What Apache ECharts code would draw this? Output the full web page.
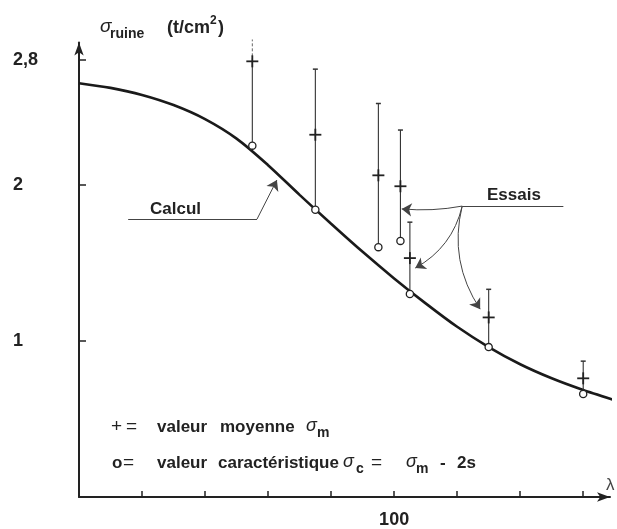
<!DOCTYPE html>
<html>
<head>
<meta charset="utf-8">
<script src="https://cdn.jsdelivr.net/npm/echarts@6/dist/echarts.min.js"></script>
<style>
  html, body { margin: 0; padding: 0; background: #fff; }
  #curve { width: 617px; height: 529px; }
</style>
</head>
<body>
<div id="curve"></div>
<script>
// courbe "Calcul"
var curveLambda = [0, 10, 20, 30, 40, 50, 60, 70, 80, 90, 100, 110, 120, 130, 140, 150, 160, 170];
var curveSigma = [2.65, 2.62, 2.575, 2.51, 2.42, 2.295, 2.125, 1.935, 1.75, 1.57, 1.40, 1.24, 1.09, 0.96, 0.85, 0.76, 0.685, 0.62];

// essais : lambda, sigma_c (o), sigma_m (+), haut de la barre
var testLambda = [55, 75, 95, 102, 105, 130, 160];
var testChar = [2.25, 1.84, 1.60, 1.64, 1.30, 0.96, 0.66];
var testMean = [2.79, 2.32, 2.06, 1.99, 1.53, 1.15, 0.76];
var testTop = [2.93, 2.74, 2.52, 2.35, 1.76, 1.33, 0.87];
var testDashed = [1, 0, 0, 0, 0, 0, 0];

var yTicks = [1, 2, 2.8];
var xTicks = [20, 40, 60, 80, 100, 120, 140, 160];
var xLabels = [100];

var ink = "#222";
var font = "Liberation Sans";

var myChart = echarts.init(document.getElementById("curve"));

function txt(x, y, text, size, extra) {
  return {
    type: "text",
    x: x,
    y: y,
    style: Object.assign(
      {
        text: text,
        fill: ink,
        fontFamily: font,
        fontSize: size,
        fontWeight: "bold",
        align: "left",
        verticalAlign: "middle",
      },
      extra || {}
    ),
  };
}
var sig = { fontStyle: "italic", fontWeight: "normal" };

var option = {
  animation: false,
  grid: { left: 79, right: 7, top: 42.6, bottom: 29.5 },
  xAxis: {
    type: "value",
    min: 0,
    max: 168.5,
    axisLine: {
      onZero: false,
      symbol: ["none", "arrow"],
      symbolSize: [7, 13],
      lineStyle: { color: ink, width: 2 },
    },
    axisTick: {
      customValues: xTicks,
      inside: true,
      length: 6,
      lineStyle: { color: ink, width: 1.5 },
    },
    axisLabel: {
      customValues: xLabels,
      margin: 14,
      color: ink,
      fontFamily: font,
      fontSize: 18,
      fontWeight: "bold",
    },
    splitLine: { show: false },
  },
  yAxis: {
    type: "value",
    min: 0,
    max: 2.91,
    axisLine: {
      onZero: false,
      symbol: ["none", "arrow"],
      symbolSize: [7, 13],
      lineStyle: { color: ink, width: 2 },
    },
    axisTick: {
      customValues: yTicks,
      inside: true,
      length: 7,
      lineStyle: { color: ink, width: 1.5 },
    },
    axisLabel: {
      customValues: yTicks,
      align: "left",
      margin: 66,
      color: ink,
      fontFamily: font,
      fontSize: 18,
      fontWeight: "bold",
      formatter: function (v) {
        return String(v).replace(".", ",");
      },
    },
    splitLine: { show: false },
  },
  series: [
    {
      type: "line",
      data: curveLambda.map(function (l, i) {
        return [l, curveSigma[i]];
      }),
      smooth: 0.3,
      symbol: "none",
      clip: false,
      lineStyle: { color: "#1a1a1a", width: 2.6 },
      z: 3,
    },
    {
      type: "custom",
      clip: false,
      data: testLambda.map(function (l, i) {
        return [l, testChar[i], testMean[i], testTop[i], testDashed[i]];
      }),
      encode: { x: 0, y: [1, 2, 3] },
      renderItem: function (params, api) {
        var pc = api.coord([api.value(0), api.value(1)]);
        var pm = api.coord([api.value(0), api.value(2)]);
        var pt = api.coord([api.value(0), api.value(3)]);
        var dashed = api.value(4) === 1;
        var r = 3.6;
        var st = { stroke: "#333", lineWidth: 1.1 };
        var plus = { stroke: "#222", lineWidth: 1.8 };
        var children = [
          { type: "line", shape: { x1: pc[0], y1: pc[1] - r, x2: pm[0], y2: pm[1] }, style: st },
          {
            type: "line",
            shape: { x1: pm[0], y1: pm[1], x2: pt[0], y2: pt[1] },
            style: dashed ? { stroke: "#666", lineWidth: 1, lineDash: [3, 2] } : st,
          },
          { type: "line", shape: { x1: pm[0] - 6, y1: pm[1], x2: pm[0] + 6, y2: pm[1] }, style: plus },
          { type: "line", shape: { x1: pm[0], y1: pm[1] - 6, x2: pm[0], y2: pm[1] + 6 }, style: plus },
          {
            type: "circle",
            shape: { cx: pc[0], cy: pc[1], r: r },
            style: { fill: "#fff", stroke: "#222", lineWidth: 1.3 },
          },
        ];
        if (!dashed) {
          children.push({
            type: "line",
            shape: { x1: pt[0] - 2.5, y1: pt[1], x2: pt[0] + 2.5, y2: pt[1] },
            style: { stroke: "#333", lineWidth: 1.5 },
          });
        }
        return { type: "group", children: children };
      },
      z: 4,
    },
    {
      // fleches de renvoi
      type: "lines",
      coordinateSystem: "cartesian2d",
      symbol: ["none", "arrow"],
      symbolSize: [6, 10],
      lineStyle: { color: "#444", width: 1, opacity: 1 },
      silent: true,
      data: [
        { coords: [[15.6, 1.78], [56.5, 1.78]], symbol: ["none", "none"] },
        { coords: [[56.5, 1.78], [62.8, 2.03]] },
        { coords: [[121.6, 1.863], [153.7, 1.863]], symbol: ["none", "none"] },
        { coords: [[121.6, 1.863], [102.4, 1.845]], lineStyle: { curveness: 0.07 } },
        { coords: [[121.6, 1.863], [106.7, 1.466]], lineStyle: { curveness: 0.22 } },
        { coords: [[121.6, 1.863], [127.3, 1.203]], lineStyle: { curveness: -0.22 } },
      ],
      z: 2,
    },
  ],
  graphic: [
    // titre de l'axe
    txt(100, 27, "σ", 19, sig),
    txt(110, 34, "ruine", 14),
    txt(167, 28, "(t/cm", 18),
    txt(210, 21, "2", 12),
    txt(218, 28, ")", 18),
    txt(606, 485, "λ", 17, { fontWeight: "normal", fill: "#444" }),
    txt(150, 209, "Calcul", 17),
    txt(487, 195, "Essais", 17),
    // legende
    txt(111, 427, "+", 19, { fontWeight: "normal" }),
    txt(126, 427, "=", 19, { fontWeight: "normal" }),
    txt(157, 427, "valeur", 17),
    txt(220, 427, "moyenne", 17),
    txt(306, 426, "σ", 18, sig),
    txt(317, 433, "m", 14),
    txt(112, 463, "o", 17),
    txt(123, 463, "=", 19, { fontWeight: "normal" }),
    txt(157, 463, "valeur", 17),
    txt(218, 463, "caractéristique", 17),
    txt(343, 462, "σ", 18, sig),
    txt(356, 469, "c", 14),
    txt(371, 463, "=", 19, { fontWeight: "normal" }),
    txt(406, 462, "σ", 18, sig),
    txt(416, 469, "m", 14),
    txt(440, 463, "-", 17),
    txt(457, 463, "2s", 17),
  ],
};

option && myChart.setOption(option);
</script>
</body>
</html>
